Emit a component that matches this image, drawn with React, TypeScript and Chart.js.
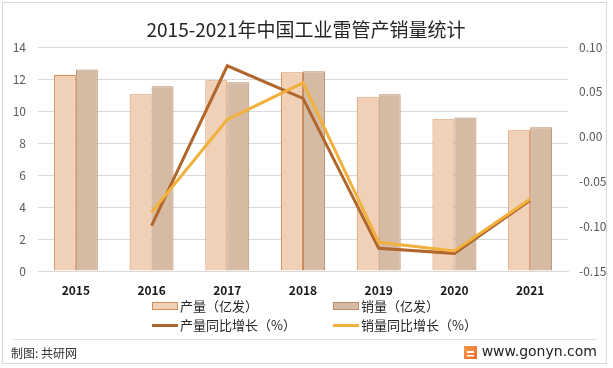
import React, { useEffect, useRef } from "react";
import { Chart, registerables } from "chart.js";

Chart.register(...registerables);

const years = ["2015", "2016", "2017", "2018", "2019", "2020", "2021"];
const production = [12.25, 11.04, 11.92, 12.42, 10.86, 9.48, 8.79];
const sales = [12.6, 11.54, 11.79, 12.48, 11.04, 9.6, 8.98];
const productionGrowth = [null, -0.0994, 0.079, 0.0427, -0.1247, -0.1303, -0.0710];
const salesGrowth = [null, -0.0845, 0.019, 0.06, -0.118, -0.1277, -0.0696];
const leftTicks = [0, 2, 4, 6, 8, 10, 12, 14];
const rightTicks = [-0.15, -0.1, -0.05, 0, 0.05, 0.1];

const titleText = "2015-2021年中国工业雷管产销量统计";
const sourceText = "制图: 共研网";
const siteText = "www.gonyn.com";

const FONT = "'Noto Sans CJK SC', 'Noto Sans', sans-serif";

const decorPlugin = {
  id: "decor",
  beforeDraw(chart: any) {
    const ctx = chart.ctx;
    ctx.save();
    ctx.fillStyle = "#ffffff";
    ctx.fillRect(0, 0, chart.width, chart.height);
    ctx.restore();
  },
  afterDraw(chart: any) {
    const ctx = chart.ctx;
    ctx.save();
    // outer border
    ctx.strokeStyle = "#D9D9D9";
    ctx.lineWidth = 1;
    ctx.strokeRect(2.5, 2.5, 604, 361);
    // title
    ctx.fillStyle = "#262626";
    ctx.font = `19px ${FONT}`;
    ctx.textAlign = "center";
    ctx.textBaseline = "middle";
    ctx.fillText(titleText, 306, 30);
    // legend
    const items = chart.data.datasets;
    const cols = [152, 333];
    const rows = [306, 325];
    items.forEach((ds: any, i: number) => {
      const x = cols[i % 2];
      const y = rows[Math.floor(i / 2)];
      if (ds.type === "line") {
        ctx.strokeStyle = ds.borderColor;
        ctx.lineWidth = 3;
        ctx.beginPath();
        ctx.moveTo(x, y + 0.5);
        ctx.lineTo(x + 26, y + 0.5);
        ctx.stroke();
      } else {
        ctx.fillStyle = ds.backgroundColor;
        ctx.fillRect(x + 0.5, y - 3.5, 25, 7);
        ctx.strokeStyle = ds.borderColor;
        ctx.lineWidth = 1;
        ctx.strokeRect(x + 0.5, y - 3.5, 25, 7);
      }
      ctx.fillStyle = "#262626";
      ctx.font = `13px ${FONT}`;
      ctx.textAlign = "left";
      ctx.textBaseline = "middle";
      ctx.fillText(ds.label, x + 28, y);
    });
    // footer separator
    ctx.strokeStyle = "#E3E3E3";
    ctx.lineWidth = 1;
    ctx.beginPath();
    ctx.moveTo(12, 339.5);
    ctx.lineTo(597, 339.5);
    ctx.stroke();
    ctx.fillStyle = "#333333";
    ctx.font = `12px ${FONT}`;
    ctx.textAlign = "left";
    ctx.fillText(sourceText, 11, 353);
    // logo
    const g = ctx.createLinearGradient(463, 345, 477, 360);
    g.addColorStop(0, "#F5A04A");
    g.addColorStop(1, "#EE6A2C");
    ctx.fillStyle = g;
    ctx.fillRect(464, 346, 13, 13);
    ctx.fillStyle = "#ffffff";
    ctx.fillRect(467, 351, 7, 2);
    ctx.fillRect(467, 355, 7, 1.5);
    ctx.fillStyle = "#222222";
    ctx.font = `14px 'DejaVu Sans', sans-serif`;
    ctx.textAlign = "right";
    ctx.fillText(siteText, 597, 352);
    ctx.restore();
  },
};

export default function App() {
  const ref = useRef<HTMLCanvasElement>(null);
  useEffect(() => {
    document.body.style.margin = "0";
    const canvas = ref.current!;
    const chart = new Chart(canvas, {
      type: "bar",
      data: {
        labels: years,
        datasets: [
          {
            type: "bar",
            label: "产量（亿发）",
            data: production,
            backgroundColor: "#F0D0B6",
            borderColor: "#D98D55",
            borderWidth: 1,
            yAxisID: "y",
            order: 3,
          },
          {
            type: "bar",
            label: "销量（亿发）",
            data: sales,
            backgroundColor: "#D6BBA4",
            borderColor: "#B98D6B",
            borderWidth: 1,
            yAxisID: "y",
            order: 4,
          },
          {
            type: "line",
            label: "产量同比增长（%）",
            data: productionGrowth as any,
            borderColor: "#B1662B",
            backgroundColor: "#B1662B",
            borderWidth: 3,
            pointRadius: 0,
            tension: 0,
            yAxisID: "y1",
            order: 2,
          },
          {
            type: "line",
            label: "销量同比增长（%）",
            data: salesGrowth as any,
            borderColor: "#F2B13E",
            backgroundColor: "#F2B13E",
            borderWidth: 3,
            pointRadius: 0,
            tension: 0,
            yAxisID: "y1",
            order: 1,
          },
        ],
      },
      options: {
        responsive: false,
        animation: false,
        layout: { padding: { top: 47, left: 0, right: 0, bottom: 0 } },
        plugins: {
          legend: { display: false },
          title: { display: false },
          tooltip: { enabled: false },
        },
        datasets: {
          bar: { categoryPercentage: 0.58, barPercentage: 1.0 },
        },
        scales: {
          x: {
            grid: { display: false, drawTicks: false },
            border: { display: true, color: "#D9D9D9" },
            ticks: {
              color: "#1a1a1a",
              font: { family: FONT, size: 12, weight: "bold" },
              padding: 12,
            },
            afterFit(scale: any) {
              scale.height = 97;
            },
          },
          y: {
            position: "left",
            min: 0,
            max: 14,
            afterBuildTicks(scale: any) {
              scale.ticks = leftTicks.map((v) => ({ value: v }));
            },
            grid: { color: "#D9D9D9", drawTicks: false },
            border: { display: false },
            ticks: {
              color: "#595959",
              font: { family: FONT, size: 12 },
              padding: 12,
            },
            afterFit(scale: any) {
              scale.width = 38;
            },
          },
          y1: {
            position: "right",
            min: -0.15,
            max: 0.1,
            afterBuildTicks(scale: any) {
              scale.ticks = rightTicks.map((v) => ({ value: v }));
            },
            grid: { display: false, drawTicks: false },
            border: { display: false },
            ticks: {
              color: "#595959",
              font: { family: FONT, size: 12 },
              padding: 11,
              callback: (v: any) => Number(v).toFixed(2),
            },
            afterFit(scale: any) {
              scale.width = 45;
            },
          },
        },
      },
      plugins: [decorPlugin],
    });
    return () => chart.destroy();
  }, []);
  return <canvas ref={ref} width={613} height={368} style={{ display: "block" }} />;
}
